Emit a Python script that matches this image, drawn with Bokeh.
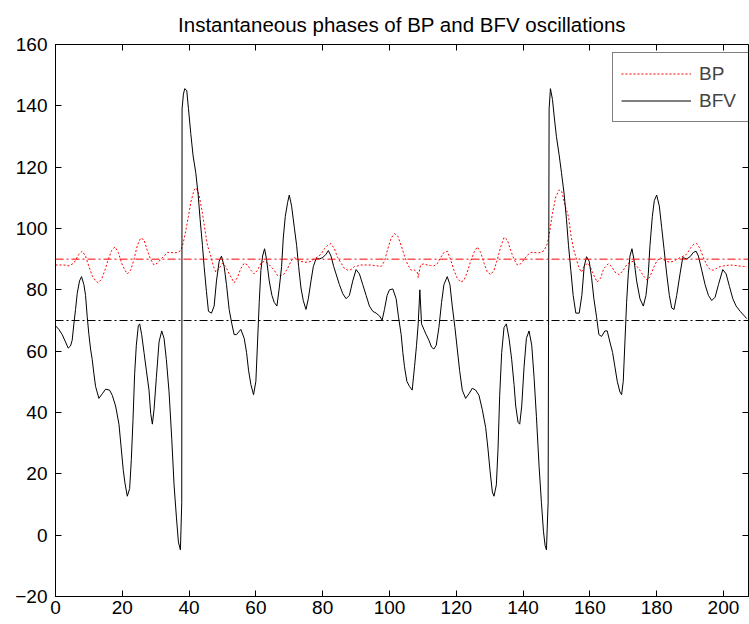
from bokeh.plotting import figure
from bokeh.models import Span, LinearAxis, FixedTicker, Legend, LegendItem, Range1d
from bokeh.embed import file_html
from bokeh.resources import INLINE

TITLE = "Instantaneous phases of BP and BFV oscillations"
X_TICKS = [0, 20, 40, 60, 80, 100, 120, 140, 160, 180, 200]
Y_TICKS = [-20, 0, 20, 40, 60, 80, 100, 120, 140, 160]
X_MIN, X_MAX = 0, 207.5
Y_MIN, Y_MAX = -20, 160
BP_REF = 90
BFV_REF = 70

bfv_x = [
    0, 1, 2, 3, 3.8, 4.5, 5, 5.5, 6, 6.5,
    7.2, 7.8, 8.5, 9, 9.5, 10, 10.5, 11, 11.5, 12,
    13, 14, 15, 16.2, 17, 18, 19, 19.7, 20.3, 20.8,
    21.5, 22.2, 22.7, 23.2, 23.7, 24.2, 24.8, 25.2, 25.8, 26.5,
    27.2, 28, 28.5, 29, 29.5, 30.2, 31, 31.8, 32.5, 33.2,
    34, 34.8, 35.5, 36.2, 36.8, 37.4, 37.8, 37.9, 38.3, 38.7,
    39.3, 39.8, 40.5, 41.2, 42, 42.7, 43.3, 44, 44.5, 45.2,
    45.8, 46.7, 47.5, 48.2, 49, 49.7, 50.5, 51.2, 52, 52.8,
    53.5, 54.2,
    55.5, 56.5, 57.2, 57.8, 58.5, 59.3, 60, 60.5, 61, 61.5,
    62, 62.6, 63.2, 64, 64.8, 65.5, 66.3, 67, 67.7, 68.2,
    68.8, 69.5, 70, 70.7, 71.5, 72.2, 72.8, 73.5, 74.2, 75,
    75.7, 76.5, 77.2, 78, 79, 80, 81, 81.7, 82.5, 83.3,
    84, 85, 86, 87, 88, 89, 90, 91, 92, 93,
    94, 95, 96, 97, 97.8, 98.5, 99.3, 100, 101, 102,
    102.7, 103.5, 104, 104.5, 105.2, 106, 106.8,
    107.5, 108.1, 108.6, 109.1, 109.6, 110.3, 111, 111.8, 112.6, 113.3,
    114, 114.8, 115.6, 116.3, 117.3, 118.1, 118.8, 119.6, 120.3, 121,
    121.8, 122.8, 123.8, 124.8, 125.8, 126.8, 127.8, 128.8, 129.5, 130.1,
    130.8, 131.3, 132, 132.5, 133, 133.6, 134.3, 135, 135.8, 136.6,
    137.3, 137.8, 138.5, 139, 139.6, 140.3, 141, 141.8, 142.6, 143.3,
    144, 144.8, 145.5, 146.1, 146.6, 147, 147.5, 147.8, 148.2, 148.8,
    149.4, 150, 150.8, 151.5, 152.3, 153, 153.6, 154.3, 155, 155.8,
    156.8, 157.6, 158.3, 159,
    159.8, 160.5, 161.2, 162, 162.7, 163.5, 164.5, 165.2, 166, 166.8,
    167.5, 168.2, 169, 169.5, 170, 170.5, 171, 171.5, 172, 172.6,
    173.2, 174, 175, 176, 176.8, 177.5, 178, 178.7, 179.3, 180,
    180.8, 181.5, 182.2, 183, 183.8, 184.5, 185.2, 186, 187, 187.8,
    189, 190, 191, 191.8, 192.5, 193.5, 194.5, 195.5, 196.5, 197.5,
    198.5, 199.8, 200.8, 201.8, 202.8, 203.8, 205, 206, 207,
]
bfv_y = [
    68.3, 67.1, 65.4, 63, 61, 61.7, 63.6, 68.9, 73.6, 78.8,
    82.9, 84.3, 81.7, 78.2, 71.2, 65.4, 60.7, 57.2, 52.6, 48.5,
    44.6, 46.1, 47.6, 47.3, 45.6, 42.1, 36.2, 28.1, 21.1, 17,
    12.7, 15.2, 24.6, 37.4, 52.6, 61.9, 68.3, 68.9, 65.4, 59.6,
    53.8, 47.3, 39.7, 36.2, 40.9, 51.4, 63, 66.6, 64.2, 57.2,
    46.7, 31.6, 16.4, 5.9, -2.2, -4.8, 10.6, 139, 143.8, 145.6,
    145, 139.2, 131, 123.7, 118.2, 111.2, 103, 94.5, 87.6, 79.4,
    73, 72.4, 74.7, 82.9, 89.3, 91, 87.6, 81.7, 73.6, 68.9,
    65.4, 65.4,
    67.1, 64.2, 59.6, 53.8, 49.1, 45.8, 50.2, 63, 75.9, 86.4,
    91, 93.4, 89.9, 82.9, 78.2, 75.9, 74.7, 80.6, 87.6, 96.9,
    103.9, 108.5, 110.9, 107.3, 100.4, 94.5, 87.6, 80.6, 76.5, 73.6,
    77.1, 82.9, 87.6, 90.1, 90.1, 90.5, 91.6, 92.8, 91, 87.6,
    85.2, 81.7, 78.8, 77.1, 78.2, 82.9, 86.6, 85.2, 81.7, 78.2,
    74.7, 73, 72.4, 71.5, 70.1, 73.6, 78.2, 80, 80.3, 77.1,
    71.2, 65.4, 59.6, 54.9, 50.2, 48.5, 47.3,
    54.9, 61.9, 68.9, 80, 68.9, 67.1, 65.4, 63.6, 61.3, 60.7,
    61.9, 67.7, 75.9, 81.7, 84.3, 81.7, 74.7, 67.7, 60.7, 53.7,
    47.3, 44.6, 46.1, 47.9, 47.3, 45.6, 40.9, 35.1, 28.1, 21.1,
    14.1, 12.7, 16.4, 28.1, 45.6, 59.6, 67.7, 68.9, 64.2, 57.2,
    49.1, 42.1, 36.8, 36.2, 42.1, 54.9, 64.2, 66.6, 61.9, 51.4,
    38.6, 22.3, 10.6, 1.3, -3.4, -4.8, 10.6, 139, 145.6, 142.1,
    135.7, 129.9, 124, 118.2, 111.2, 103, 94.5, 86.4, 78.2, 72.4,
    72.4, 78.2, 87.6, 90.8,
    89.3, 84.1, 77.1, 71.2, 65.4, 64.8, 66.6, 66.6, 63, 59.6,
    54.9, 50.2, 46.7, 45.8, 50.2, 63, 75.9, 85.2, 91, 93.4,
    89.9, 82.9, 77.1, 74.7, 78.2, 85.2, 94.5, 103.9, 109.1, 110.9,
    107.3, 100.4, 93.4, 85.2, 78.2, 74.1, 73.6, 78.2, 85.2, 90.5,
    90.1, 90.8, 92.2, 92.6, 91, 86.4, 81.7, 78.2, 76.5, 77.6,
    81.7, 86.6, 85.2, 81.1, 77.1, 74.7, 73, 71.8, 70.6,
]

bp_x = [
    0, 1, 2.5, 4, 5.5, 7, 8, 9, 10, 11,
    12, 12.8, 13.8, 14.8, 15.8, 16.8, 17.8, 18.8, 19.8, 20.8,
    21.5, 22.5, 23.5, 24.5, 25.5, 26.5, 27.5, 28.5, 29.5, 30.5,
    31.5, 32.5, 33.5, 34.5, 35.5, 36.5, 37.5, 38.2, 39, 39.8,
    40.5, 41.5, 42.2, 43, 44, 44.8, 45.5, 46.5, 47.3, 48,
    49, 50, 51, 52, 53.5,
    54.5, 55.5, 56.5, 57.5, 58.5, 59.5, 60.5, 61.5, 62.5, 63.5,
    64.5, 65.5, 66.5, 67.5, 68.5, 69.5, 70.5, 71.5, 72.5, 73.5,
    74.5, 75.5, 76.5, 77.5, 78.5, 79.5, 80.5, 81.5, 82.5, 83.5,
    84.5, 85.5, 86.5, 87.5, 88.5, 89.5, 90.5, 91.5, 92.5, 93.5,
    94.5, 95.5, 96.5, 97.5, 98.5, 99.5, 100.5, 101.5, 102.5, 103.5,
    104.5, 105.5, 106.5,
    107.3, 108.3, 108.6, 109.3, 110.3, 111.3, 112.3, 113.3, 114.3, 115.3,
    116.3, 117.3, 118.3, 119.3, 120.3, 121.3, 122.3, 123.3, 124.3, 125.3,
    126.3, 127.3, 128.3, 129.3, 130.3, 131.3, 132.3, 133.3, 134.3, 135.3,
    136.3, 137.3, 138.3, 139.3, 140.3, 141.3, 142.3, 143.3, 144.3, 145.3,
    146.3, 147.3, 148, 148.8, 149.8, 150.8, 151.6, 152.6, 153.6, 154.3,
    155.1, 156, 156.8, 157.5, 158.3, 159.3, 160.1,
    161, 162.2, 163.2, 164.2, 165.5, 166.5, 167.5, 168.8, 170, 171,
    172, 173, 174, 175, 176, 177.2, 178, 179, 180, 181,
    182, 183, 184, 185, 186, 187, 188, 189, 190, 191,
    192, 193, 194, 195, 196, 197, 198, 199, 200, 202,
    204, 206, 207,
]
bp_y = [
    88.1, 88.1, 88.1, 87.8, 88.7, 91.6, 92.6, 91, 87.6, 84.6,
    82.9, 82.3, 83.5, 86.4, 89.9, 92.8, 94, 92.2, 88.7, 86.4,
    85.2, 86.4, 89.9, 94.5, 96.9, 96.3, 92.8, 89.9, 88.1, 88.7,
    89.9, 91, 92.2, 92.2, 92, 92.2, 92.8, 95.1, 99.2, 103.9,
    108.5, 112.6, 113.2, 110.9, 105, 99.2, 94.5, 91, 87.6, 85.8,
    87, 88.7, 87.6, 85.2, 82.3,
    84.1, 87, 88.7, 88.1, 86.4, 85.2, 86.4, 88.7, 89.3, 88.7,
    87.6, 86.4, 84.6, 84.6, 85.2, 87, 89.3, 90.5, 89.9, 89.3,
    89, 89, 89.3, 90.1, 90.8, 91.6, 93.4, 94.5, 95.1, 93.4,
    90.5, 88.7, 87, 86.4, 86.6, 87.6, 87.8, 88.1, 88.1, 88.1,
    88.1, 87.9, 87.8, 87.6, 89.3, 93.4, 96.9, 98.3, 97.5, 94.5,
    91, 88.1, 86.4,
    86.6, 85.8, 84, 88.1, 88.5, 88.1, 87.9, 87.8, 88.5, 90.5,
    92.2, 92.6, 89.9, 86.4, 83.8, 82.5, 83.1, 85.8, 89.3, 92.2,
    94, 92.2, 88.7, 85.8, 85, 86.4, 89.9, 94, 97.1, 96.3,
    92.8, 89.9, 88.1, 88.5, 89.9, 91.3, 92.2, 92.2, 92, 92.2,
    92.8, 95.1, 99.2, 105, 110.3, 112.6, 112, 107.4, 103.9, 98,
    93.4, 89.9, 87, 85.8, 87.6, 88.7, 87.6,
    85.2, 82.5, 83.8, 87, 88.5, 87.6, 85.8, 84.9, 86.4, 88.1,
    89, 89.3, 87.8, 86.4, 84.6, 83.1, 84.3, 87, 89.3, 90.5,
    89.9, 89.3, 89, 89.3, 89.9, 90.5, 91, 91.6, 93.4, 94.8,
    95.1, 93.4, 90.5, 88.1, 86.6, 86.4, 87, 87.6, 87.8, 88.1,
    87.9, 87.6, 87.6,
]

assert len(bfv_x) == len(bfv_y), (len(bfv_x), len(bfv_y))
assert len(bp_x) == len(bp_y), (len(bp_x), len(bp_y))

FONT = "Liberation Sans"

p = figure(width=749, height=624,
           x_range=Range1d(X_MIN, X_MAX), y_range=Range1d(Y_MIN, Y_MAX),
           output_backend="svg", toolbar_location=None,
           min_border_left=55, min_border_right=1,
           min_border_top=44, min_border_bottom=28)

p.title.text = TITLE
p.title.align = "center"
p.title.text_font = FONT
p.title.text_font_size = "20.5px"
p.title.text_font_style = "normal"
p.title.text_color = "black"
p.title.standoff = 18

p.xgrid.visible = False
p.ygrid.visible = False
p.outline_line_color = "black"
p.outline_line_width = 1
p.background_fill_color = "white"
p.border_fill_color = "white"

def style_axis(ax, ticks, show_labels):
    ax.ticker = FixedTicker(ticks=ticks)
    ax.major_tick_in = 6
    ax.major_tick_out = 0
    ax.minor_tick_line_color = None
    ax.axis_line_color = "black"
    ax.major_tick_line_color = "black"
    ax.major_label_text_font = FONT
    ax.major_label_text_font_size = "19px"
    ax.major_label_text_color = "black"
    if not show_labels:
        ax.major_label_overrides = {t: "" for t in ticks}
        ax.major_label_standoff = 0
        ax.axis_line_color = None

style_axis(p.xaxis[0], X_TICKS, True)
p.xaxis[0].major_label_standoff = 4
style_axis(p.yaxis[0], Y_TICKS, True)
p.yaxis[0].major_label_standoff = 8

top_axis = LinearAxis()
style_axis(top_axis, X_TICKS, False)
p.add_layout(top_axis, "above")
right_axis = LinearAxis()
style_axis(right_axis, Y_TICKS, False)
p.add_layout(right_axis, "right")

r_bp = p.line(bp_x, bp_y, line_color="red", line_dash="2 2", line_width=1)
r_bfv = p.line(bfv_x, bfv_y, line_color="black", line_width=1)

p.add_layout(Span(location=BP_REF, dimension="width", line_color="red",
                  line_dash="8 3 2 3", line_width=1))
p.add_layout(Span(location=BFV_REF, dimension="width", line_color="black",
                  line_dash="8 3 2 3", line_width=1))

legend = Legend(items=[LegendItem(label="BP", renderers=[r_bp]),
                       LegendItem(label="BFV", renderers=[r_bfv])],
                location=(557, 474), margin=0, padding=8, spacing=2,
                glyph_width=70, glyph_height=25, label_height=25, label_width=42,
                label_standoff=8,
                label_text_font=FONT, label_text_font_size="19px",
                border_line_color="black", border_line_width=1,
                background_fill_color="white", background_fill_alpha=1)
p.add_layout(legend)

open("out.html", "w").write(file_html(p, INLINE))
